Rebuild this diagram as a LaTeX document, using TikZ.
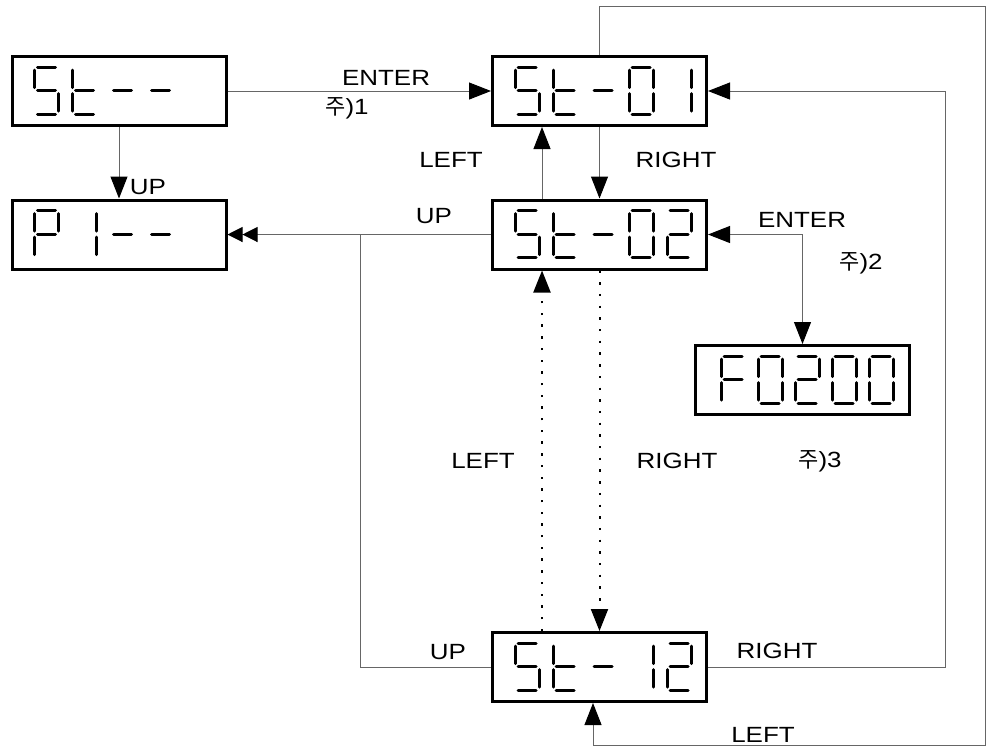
\documentclass[tikz,border=0pt]{standalone}
\usepackage{fontspec}
\setmainfont[FakeStretch=1.18]{Liberation Sans}
\newfontfamily\krfont{Noto Sans CJK KR}
\usetikzlibrary{arrows.meta,calc}
% seven segment pieces (cell 24 x 47)
\newcommand{\segA}{(3,0) -- (21,0)}
\newcommand{\segB}{(24,3) -- (24,20.5)}
\newcommand{\segC}{(24,26.5) -- (24,44)}
\newcommand{\segD}{(3,47) -- (21,47)}
\newcommand{\segE}{(0,26.5) -- (0,44)}
\newcommand{\segF}{(0,3) -- (0,20.5)}
\newcommand{\segG}{(3,23.5) -- (21,23.5)}
\tikzset{
  dbox/.style={rectangle,draw,line width=1.5pt,minimum width=107pt,minimum height=34.5pt,inner sep=0pt},
  seg/.style={line width=1.5pt,line cap=round},
  lbl/.style={inner sep=0pt,font=\fontsize{11}{13}\selectfont},
  ln/.style={draw=black!60,line width=0.5pt},
  de/.style={ln,-{Triangle[length=11pt,width=8.5pt,black]}},
  dde/.style={draw=black,line width=1pt,dash pattern=on 1.2pt off 4.65pt,-{Triangle[length=11pt,width=8.5pt,black]}},
  be/.style={ln,{Triangle[length=11pt,width=8.5pt,black]}-{Triangle[length=11pt,width=8.5pt,black]}},
  uph/.style={ln,-{Triangle[length=7.5pt,width=7.5pt,black]Triangle[length=7.5pt,width=7.5pt,black]}},
  pics/segS/.style={code={\draw[seg] \segA \segF \segG \segC \segD;}},
  pics/segt/.style={code={\draw[seg] \segF \segE \segG \segD;}},
  pics/segm/.style={code={\draw[seg] \segG;}},
  pics/seg0/.style={code={\draw[seg] \segA \segB \segC \segD \segE \segF;}},
  pics/seg1/.style={code={\draw[seg] \segB \segC;}},
  pics/seg2/.style={code={\draw[seg] \segA \segB \segG \segE \segD;}},
  pics/segP/.style={code={\draw[seg] \segA \segB \segF \segG \segE;}},
  pics/segF/.style={code={\draw[seg] \segA \segF \segG \segE;}}
}
\begin{document}
\begin{tikzpicture}[x=0.5pt,y=-0.5pt]
\useasboundingbox (0,0) rectangle (988,752);
% displays
\node[dbox] (bSt) at (119,91) {};
\node[dbox] (bP) at (119,234.5) {};
\node[dbox] (b01) at (599.5,91) {};
\node[dbox] (b02) at (599.5,234.5) {};
\node[dbox] (bF) at (802.5,380) {};
\node[dbox] (b12) at (599.5,667) {};
\foreach \d [count=\i from 0] in {S,t,m,m}
  \pic at ($(bSt.north west)+(24+38*\i,12)$) {seg\d};
\foreach \d [count=\i from 0] in {P,1,m,m}
  \pic at ($(bP.north west)+(24+38*\i,12)$) {seg\d};
\foreach \d [count=\i from 0] in {S,t,m,0,1}
  \pic at ($(b01.north west)+(24+38*\i,12)$) {seg\d};
\foreach \d [count=\i from 0] in {S,t,m,0,2}
  \pic at ($(b02.north west)+(24+38*\i,12)$) {seg\d};
\foreach \d [count=\i from 0] in {S,t,m,1,2}
  \pic at ($(b12.north west)+(24+38*\i,12)$) {seg\d};
\foreach \d [count=\i from 0] in {F,0,2,0,0}
  \pic at ($(bF.north west)+(27+37*\i,12)$) {seg\d};
% connectors
\coordinate (jUp) at (360,235);
\coordinate (railR) at (945,400);
\coordinate (loopT) at (985,6);
\coordinate (loopB) at (985,745);
\draw[de] (bSt.east) -- (b01.west);
\draw[de] (bSt.south) -- (bP.north);
\draw[de] (b01.south) -- (b02.north);
\draw[de] ([xshift=-28.75pt]b02.north) -- ([xshift=-28.75pt]b01.south);
\draw[uph] (b02.west) -- (bP.east);
\draw[ln] (b12.west) -| (jUp);
\draw[de] (b12.east) -| (railR) |- (b01.east);
\draw[de] (b01.north) |- (loopT) -- (loopB) -| ([xshift=-3.25pt]b12.south);
\draw[be] (b02.east) -| (bF.north);
\draw[dde] ([xshift=-28.75pt]b12.north) -- ([xshift=-28.75pt]b02.south);
\draw[dde] (b02.south) -- (b12.north);
% labels
\node[lbl] (tEnterA) at (386,78) {ENTER};
\node[lbl] (tNoteA) at (347,108) {{\krfont 주})1};
\node[lbl] (tUpA) at (148,187) {UP};
\node[lbl] (tLeftA) at (451,160) {LEFT};
\node[lbl] (tRightA) at (676,160) {RIGHT};
\node[lbl] (tUpB) at (434,216) {UP};
\node[lbl] (tEnterB) at (802,220) {ENTER};
\node[lbl] (tNoteB) at (861,263) {{\krfont 주})2};
\node[lbl] (tNoteC) at (820,461) {{\krfont 주})3};
\node[lbl] (tLeftB) at (483,461) {LEFT};
\node[lbl] (tRightB) at (677,461) {RIGHT};
\node[lbl] (tUpC) at (448,652) {UP};
\node[lbl] (tRightC) at (777,651) {RIGHT};
\node[lbl] (tLeftC) at (763,735) {LEFT};
\end{tikzpicture}
\end{document}
